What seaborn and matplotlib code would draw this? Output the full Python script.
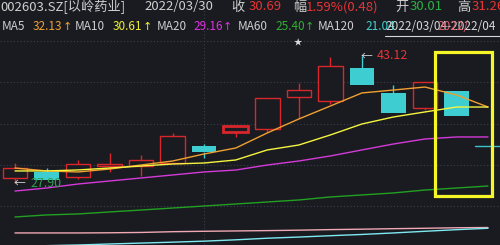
import numpy as np
import pandas as pd
import matplotlib
matplotlib.use("Agg")
import matplotlib.pyplot as plt
from matplotlib.patches import Rectangle
import seaborn as sns

# ---------------- data ----------------
opens  = [28.54, 29.26, 28.66, 29.97, 30.01, 30.33, 32.36, 34.04, 34.39, 38.22, 37.74, 41.68, 38.70, 36.96, 38.94]
highs  = [30.33, 29.70, 30.69, 31.47, 31.26, 33.92, 32.60, 34.75, 38.10, 39.89, 42.94, 43.12, 39.71, 40.01, 38.94]
lows   = [27.90, 28.30, 28.42, 29.26, 28.78, 30.33, 30.93, 33.44, 34.04, 35.71, 37.38, 39.65, 36.31, 36.67, 35.95]
closes = [29.73, 28.30, 30.21, 30.27, 30.69, 33.56, 31.65, 34.75, 38.10, 39.05, 41.92, 39.71, 36.31, 40.01, 35.95]

ma5   = [29.73, 29.38, 29.26, 29.61, 30.09, 30.57, 31.41, 32.12, 33.92, 35.59, 37.14, 38.70, 39.05, 39.41, 38.46, 37.02]
ma10  = [29.38, 29.38, 29.50, 29.73, 29.97, 30.21, 30.33, 30.69, 31.89, 32.48, 33.68, 34.99, 35.83, 36.43, 37.02, 37.02]
ma20  = [26.98, 27.34, 27.82, 28.18, 28.54, 28.90, 29.26, 29.49, 30.09, 30.57, 31.17, 31.89, 32.60, 33.20, 33.44, 33.44]
ma60  = [23.88, 24.12, 24.24, 24.48, 24.71, 24.95, 25.19, 25.43, 25.67, 25.91, 26.27, 26.51, 26.75, 27.10, 27.34, 27.58]
ma250 = [21.97, 21.97, 21.97, 21.99, 22.03, 22.12, 22.17, 22.21, 22.25, 22.30, 22.37, 22.42, 22.48, 22.53, 22.59, 22.62]
ma120 = [20.35, 20.45, 20.53, 20.65, 20.76, 20.87, 20.99, 21.15, 21.34, 21.48, 21.64, 21.79, 21.97, 22.17, 22.36, 22.53]

high_label = "43.12"
low_label = "27.90"
last_price = 32.36

header1 = [("002603.SZ[以岭药业]", "#cfcfcf"), ("2022/03/30", "#cfcfcf"), ("收", "#cfcfcf"),
           ("30.69", "#e83434"), ("幅", "#cfcfcf"), ("1.59%(0.48)", "#e83434"), ("开", "#cfcfcf"),
           ("30.01", "#2fb043"), ("高", "#cfcfcf"), ("31.26", "#e83434")]
header2 = [("MA5", "#cfcfcf", False), ("32.13", "#f0a030", True), ("MA10", "#cfcfcf", False),
           ("30.61", "#f0f030", True), ("MA20", "#cfcfcf", False), ("29.16", "#e030e0", True),
           ("MA60", "#cfcfcf", False), ("25.40", "#30b030", True), ("MA120", "#cfcfcf", False),
           ("21.04", "#40d0d0", False)]
range_text = "2022/03/04-2022/04"

# ---------------- style ----------------
BG = "#191b21"
sns.set_style("dark", {"axes.facecolor": BG, "figure.facecolor": BG})
plt.rcParams['font.family'] = ['Noto Sans CJK SC', 'DejaVu Sans']

fig = plt.figure(figsize=(5, 2.45), dpi=100)
fig.patch.set_facecolor(BG)
ax = fig.add_axes([0, 0, 1, 1])
ax.set_facecolor(BG)

W, H = 500.0, 245.0
x0_px, step_px = 15.0, 31.53
ax.set_xlim(-x0_px / step_px, 15 + 12 / step_px)
ax.set_ylim(20.53, 49.81)

# grid
for gy in [44.91, 40.01, 34.99, 30.09, 25.19]:
    ax.axhline(gy, color="#3c4049", lw=0.8, ls=(0, (1, 2)), zorder=0)
ax.axvline(6, color="#3c4049", lw=0.8, ls=(0, (1, 2)), zorder=0)

RED = "#d9262b"
CYAN = "#3ecdd0"
df = pd.DataFrame({"o": opens, "h": highs, "l": lows, "c": closes})
df["i"] = np.arange(len(df))
bw = 0.78
for _, r in df.iterrows():
    up = r.c >= r.o
    top, bot = max(r.o, r.c), min(r.o, r.c)
    col = RED if up else CYAN
    lw = 2.0 if r.i == 7 else 1.0
    ax.vlines(r.i, top, r.h, color=col, lw=1.0, zorder=2)
    ax.vlines(r.i, r.l, bot, color=col, lw=1.0, zorder=2)
    ax.bar(r.i, top - bot, bottom=bot, width=bw,
           facecolor=BG if up else CYAN, edgecolor=col, lw=lw if up else 0, zorder=2)

idx = np.arange(len(ma5))
mas = pd.DataFrame({"i": idx, "MA5": ma5, "MA10": ma10, "MA20": ma20, "MA60": ma60,
                    "MA250": ma250, "MA120": ma120})
line_cols = {"MA5": "#f0a030", "MA10": "#f5f540", "MA20": "#d43ad8", "MA60": "#22a022",
             "MA250": "#f0a8b4", "MA120": "#80e8f0"}
for name, col in line_cols.items():
    sns.lineplot(data=mas, x="i", y=name, color=col, lw=1.0, ax=ax, zorder=3)

ax.axhline(last_price, xmin=475 / W, xmax=1.0, color="#40c0c8", lw=1.0, zorder=3)

# yellow highlight box
ax.add_patch(Rectangle((13.32, 26.39), 15.13 - 13.32, 43.60 - 26.39, fill=False,
                       edgecolor="#f5f528", lw=2.3, zorder=4))

# high / low labels
ax.annotate("←", xy=(11, 43.12), xytext=(-1, 0), textcoords="offset points",
            color="#d8d8d8", fontsize=8.5, va="center", ha="left", zorder=5)
ax.annotate(high_label, xy=(11, 43.12), xytext=(10.8, 0), textcoords="offset points",
            color="#e83434", fontsize=9, va="center", ha="left", zorder=5)
ax.annotate("←", xy=(0, 27.90), xytext=(-1, 0), textcoords="offset points",
            color="#d8d8d8", fontsize=8.5, va="center", ha="left", zorder=5)
ax.annotate(low_label, xy=(0, 27.90), xytext=(10.8, 0), textcoords="offset points",
            color="#2fa050", fontsize=9, va="center", ha="left", zorder=5)

ax.set_xlabel("")
ax.set_ylabel("")
ax.set_xticks([])
ax.set_yticks([])
for s in ax.spines.values():
    s.set_visible(False)

# header text
renderer = fig.canvas.get_renderer()

def ftext(xp, yp, s, col, size, **kw):
    return fig.text(xp / W, 1 - yp / H, s, color=col, fontsize=size, va="center", ha="left", **kw)

x1 = [0, 144, 231, 249, 293, 306, 395, 410, 457, 472]
for xp, (s, c) in zip(x1, header1):
    ftext(xp, 7, s, c, 9.5)
x2 = [2, 33, 75, 113, 157, 193, 238, 275, 318, 365]
for xp, (s, c, arrow) in zip(x2, header2):
    t = ftext(xp, 27, s, c, 8.5)
    if arrow:
        bb = t.get_window_extent(renderer)
        ftext(bb.x1 + 0.5, 27, "↑", c, 8, family="DejaVu Sans")
ftext(385, 27, range_text, "#d8d8d8", 8.5)
ftext(437, 27, "2022/", "#e06070", 8.5)
fig.add_artist(plt.Line2D([385 / W, 1.0], [1 - 36 / H, 1 - 36 / H], color="#d8d8d8", lw=0.8))
ftext(294, 43, "★", "#d8d8d8", 6)

fig.savefig("out.png", dpi=100, facecolor=BG)
